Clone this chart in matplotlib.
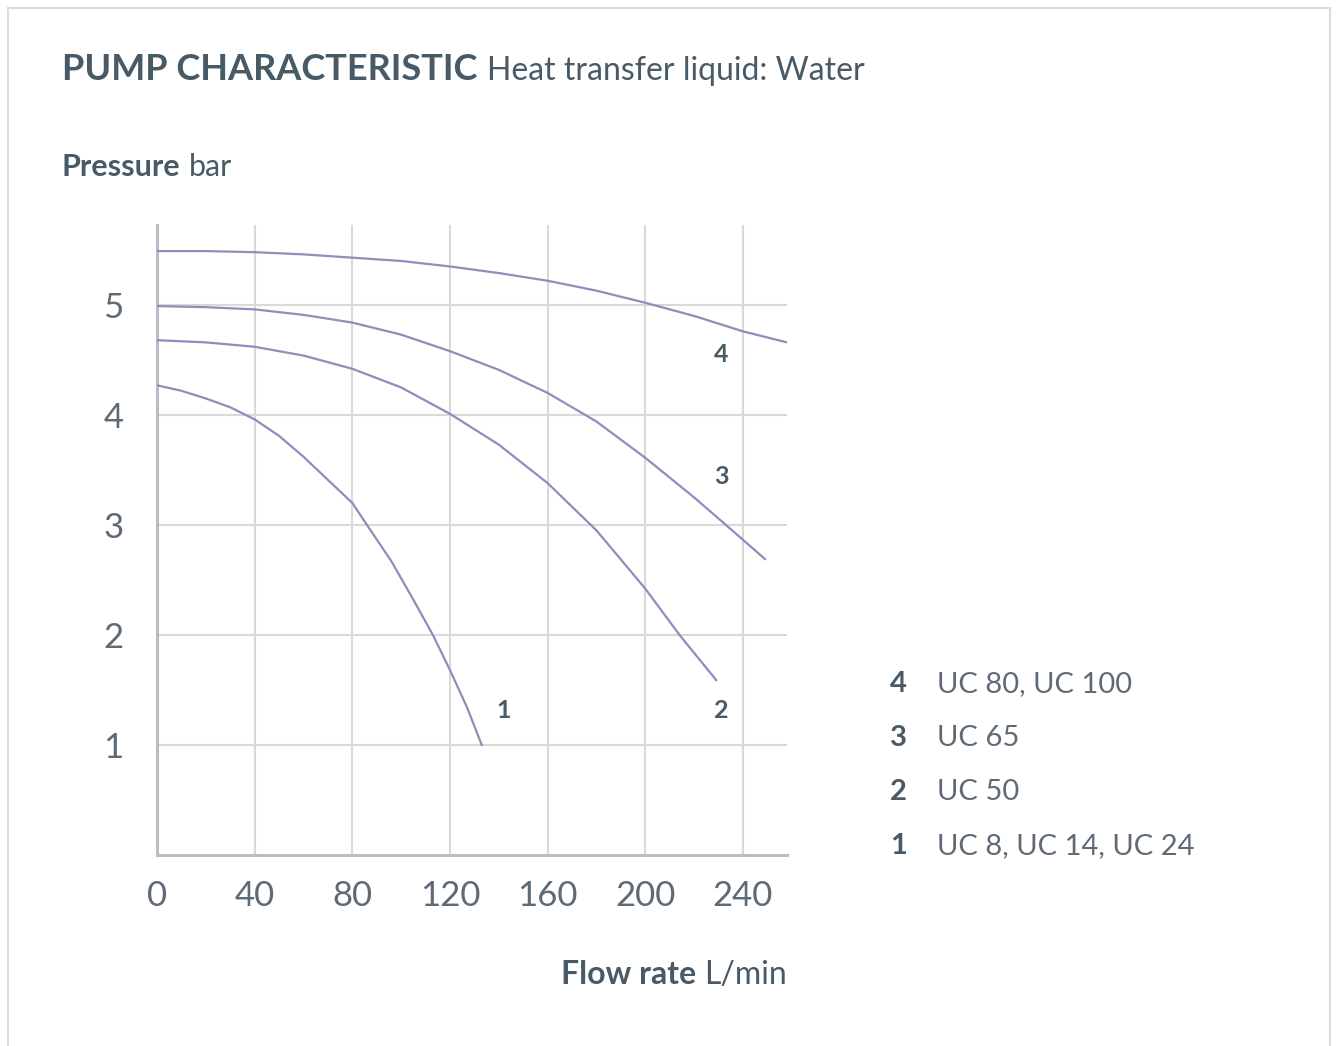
import numpy as np
import matplotlib
matplotlib.use("Agg")
import matplotlib.pyplot as plt
from matplotlib.lines import Line2D

# pump curves (flow L/min, pressure bar)
flow_1 = [0, 10, 20, 30, 40, 50, 60, 70, 80, 86, 96, 105, 113, 120, 127, 133]
pres_1 = [4.27, 4.22, 4.15, 4.07, 3.96, 3.81, 3.62, 3.41, 3.20, 3.0, 2.67, 2.32, 2.0, 1.68,
          1.34, 1.0]
flow_2 = [0, 20, 40, 60, 80, 100, 120, 140, 160, 180, 200, 214, 229]
pres_2 = [4.68, 4.66, 4.62, 4.54, 4.42, 4.25, 4.01, 3.73, 3.38, 2.95, 2.42, 2.0, 1.59]
flow_3 = [0, 20, 40, 60, 80, 100, 120, 140, 160, 180, 200, 220, 233, 249]
pres_3 = [4.99, 4.98, 4.96, 4.91, 4.84, 4.73, 4.58, 4.41, 4.20, 3.94, 3.61, 3.25, 3.0, 2.69]
flow_4 = [0, 20, 40, 60, 80, 100, 120, 140, 160, 180, 200, 220, 240, 258]
pres_4 = [5.49, 5.49, 5.48, 5.46, 5.43, 5.40, 5.35, 5.29, 5.22, 5.13, 5.02, 4.90, 4.76, 4.66]

curve_ids = ["1", "2", "3", "4"]
label_x = [142, 231, 231, 231]
label_y = [1.31, 1.31, 3.44, 4.55]
legend_ids = ["4", "3", "2", "1"]
legend_names = ["UC 80, UC 100", "UC 65", "UC 50", "UC 8, UC 14, UC 24"]

xticks = [0, 40, 80, 120, 160, 200, 240]
yticks = [1, 2, 3, 4, 5]

plt.rcParams['font.family'] = ['Lato', 'DejaVu Sans']
dark = '#485a66'
grey_txt = '#5e6b76'
line_col = '#8b8fba'

fig = plt.figure(figsize=(13.36, 10.46), dpi=100)
W, H = 1336, 1046

def fx(px):
    return px / W

def fy(py):
    return 1 - py / H

# outer frame (no bottom edge visible)
for xs, ys in [([8, 8], [8, 1046]), ([8, 1330], [8, 8]), ([1330, 1330], [8, 1046])]:
    fig.add_artist(Line2D([fx(v) for v in xs], [fy(v) for v in ys], color='#dcdcdc', lw=1.5))

ax = fig.add_axes([fx(157), fy(855), fx(787) - fx(157), fy(225) - fy(855)])
ax.set_xlim(0, 258)
ax.set_ylim(0, 5.727)

for fl, pr in [(flow_1, pres_1), (flow_2, pres_2), (flow_3, pres_3), (flow_4, pres_4)]:
    ax.plot(fl, pr, color=line_col, lw=1.6, zorder=3, solid_joinstyle='round')

for i, cid in enumerate(curve_ids):
    ax.text(label_x[i], label_y[i], cid, color=dark, fontsize=18, ha='center', va='center',
            fontweight='bold')

ax.set_xticks(xticks)
ax.set_yticks(yticks)
ax.grid(True, color='#d9d9d9', lw=1.5, zorder=0)
for s in ['top', 'right']:
    ax.spines[s].set_visible(False)
for s in ['left', 'bottom']:
    ax.spines[s].set_color('#b9bdc6')
    ax.spines[s].set_linewidth(2.2)
ax.tick_params(length=0, labelsize=25, labelcolor=grey_txt)
ax.tick_params(axis='y', pad=24)
ax.tick_params(axis='x', pad=18)

# titles
t = fig.text(fx(62), fy(80), "PUMP CHARACTERISTIC", fontsize=26, color=dark,
             fontweight='bold', va='baseline')
fig.canvas.draw()
bb = t.get_window_extent()
fig.text(bb.x1 / W + 0.007, fy(80), "Heat transfer liquid: Water", fontsize=23, color=dark,
         va='baseline')

t2 = fig.text(fx(62), fy(176), "Pressure", fontsize=22, color=dark, fontweight='bold',
              va='baseline')
fig.canvas.draw()
bb2 = t2.get_window_extent()
fig.text(bb2.x1 / W + 0.006, fy(176), "bar", fontsize=22, color=dark, va='baseline')

t3 = fig.text(fx(787), fy(984), "L/min", fontsize=23, color=dark,
              va='baseline', ha='right')
fig.canvas.draw()
bb3 = t3.get_window_extent()
fig.text(bb3.x0 / W - 0.006, fy(984), "Flow rate", fontsize=23, color=dark,
         fontweight='bold', va='baseline', ha='right')

# legend
leg_y = [684, 738, 792, 846]
for i in range(len(legend_ids)):
    fig.text(fx(907), fy(leg_y[i]), legend_ids[i], fontsize=21, color=dark, ha='right',
             va='center', fontweight='bold')
    fig.text(fx(937), fy(leg_y[i]), legend_names[i], fontsize=21, color=grey_txt, ha='left',
             va='center')

fig.savefig('out.png', dpi=100)
